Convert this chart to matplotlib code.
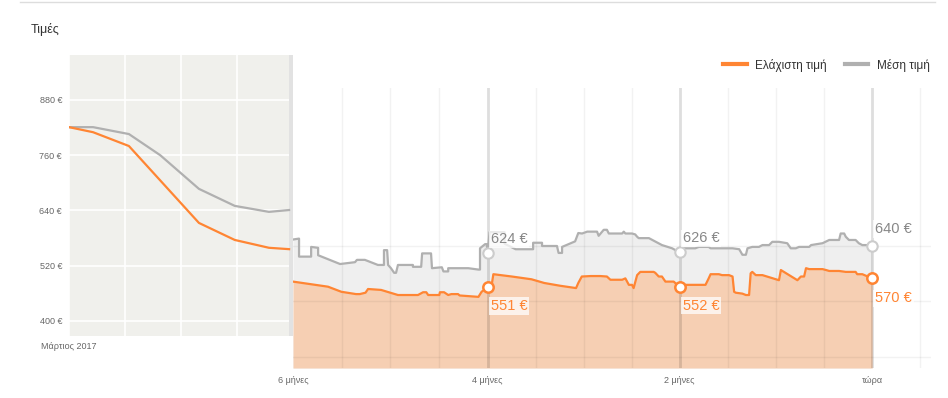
import matplotlib
matplotlib.use('Agg')
import matplotlib.pyplot as plt
from matplotlib.lines import Line2D
import numpy as np

plt.rcParams['font.family'] = ['Liberation Sans', 'DejaVu Sans']

ORANGE = '#ff8533'
GRAY = '#b0b0b0'
ORANGE_FILL = '#f6cfb3'
GRAY_FILL = '#efefef'

# ---------------- history panel (monthly index from March 2017) ----------------
hist_min_x = [0, 0.43, 1.07, 2.32, 2.96, 3.57, 3.93]
hist_min = [821, 810, 780, 613, 576, 559, 556]
hist_avg_x = [0, 0.43, 1.07, 1.63, 2.32, 2.96, 3.57, 3.93]
hist_avg = [821, 821, 806, 760, 687, 650, 637, 641]
price_ticks = [400, 520, 640, 760, 880]
price_labels = ['400 €', '520 €', '640 €', '760 €', '880 €']
hist_label = 'Μάρτιος 2017'

# ---------------- last six months (days since start) ----------------
avg_days = [0, 1.9, 1.9, 5.7, 5.7, 7.9, 7.9, 14.8, 19.5, 20.1, 22.6, 26.7, 28.6, 28.6,
            29.6, 29.9, 30.8, 31.8, 32.4, 33, 37.7, 37.7, 40.3, 40.6, 43.4, 43.7, 46.8,
            47.3, 48.8, 48.8, 55.1, 58.3, 58.8, 58.8, 60.4, 60.9, 61.2, 61.8, 66.5, 66.5,
            70, 75.5, 75.5, 78.3, 78.3, 83, 83.5, 84.6, 84.6, 87, 88.7, 89.7, 90.9, 92.5,
            95.6, 96.1, 97.7, 98.7, 99.3, 103.5, 104, 104.5, 106.6, 107.6, 108.2, 108.7,
            111.9, 116, 119.2, 121.6, 122.3, 126.5, 127.6, 130.7, 131.3, 138.2, 140.3,
            141.3, 142.4, 142.9, 144.4, 146.5, 147.6, 149.7, 150.7, 152.8, 155.4, 156.5,
            158.1, 159.1, 162.3, 162.9, 166.5, 168.6, 171.7, 172.2, 173.3, 173.8, 174.8,
            176.9, 177.9, 179, 181.1, 182.1]
avg_vals = [654, 656, 617, 617, 638, 636, 620, 601, 605, 610, 610, 599, 599, 631,
            631, 599, 592, 582, 582, 599, 599, 595, 595, 624, 624, 592, 594,
            585, 585, 592, 592, 589, 589, 635, 644, 644, 624, 670, 670, 645,
            633, 633, 647, 647, 640, 640, 625, 625, 638, 645, 650, 668, 667, 671,
            671, 662, 675, 675, 667, 667, 671, 667, 667, 665, 660, 657,
            657, 642, 635, 626, 635, 635, 638, 638, 635, 635, 633,
            621, 621, 635, 638, 638, 642, 642, 649, 649, 646, 635,
            635, 638, 638, 642, 646, 653, 653, 667, 667, 660, 653,
            653, 646, 642, 642, 640]

min_days = [0, 11, 15.2, 19.8, 21, 22.8, 23.6, 27.7, 33, 39.3, 40.9, 41.9, 42.5, 46,
            46.2, 47.5, 48.8, 49.8, 51.9, 52.4, 58.3, 59.3, 61.2, 62.5, 63, 68.8, 75,
            79, 84, 89, 89.7, 90.8, 93.6, 96.6, 98.7, 99.8, 103.5, 104.5, 105.6, 106.6,
            107.1, 108.2, 109.2, 113.4, 113.9, 115, 116, 117.1, 119.7, 120.8, 121.6,
            122.3, 123.4, 129.7, 130.7, 131.3, 133.9, 134.9, 137.1, 138.2, 138.7, 139.2,
            141.3, 142.4, 143.4, 143.9, 144.4, 145.5, 147.6, 152.8, 153.4, 158.6, 159.7,
            160.7, 161.3, 162.3, 166.5, 167.6, 168.6, 171.7, 173.8, 176.9, 177.4, 179,
            182.1]
min_vals = [563, 552, 541, 536, 536, 539, 547, 545, 534, 534, 540, 540, 534, 534,
            540, 540, 534, 536, 536, 533, 530, 541, 551, 557, 579, 574, 568,
            560, 554, 549, 560, 574, 575, 575, 574, 567, 567, 570, 556, 556,
            549, 577, 584, 584, 582, 574, 574, 563, 563, 556, 552,
            552, 556, 556, 570, 579, 579, 577, 577, 574, 541, 539,
            537, 534, 534, 581, 584, 577, 577, 566, 588, 566, 574,
            574, 592, 590, 590, 588, 586, 586, 584, 584, 579, 579,
            570]

mark_days = [61.2, 121.6, 182.1]
mark_avg = [624, 626, 640]
mark_min = [551, 552, 570]
month_tick_days = [0, 61.2, 121.6, 182.1]
month_tick_labels = ['6 μήνες', '4 μήνες', '2 μήνες', 'τώρα']
minor_grid_days = [15.3, 30.6, 45.9, 76.3, 91.4, 106.5, 136.7, 151.8, 167.0, 197.2]

W, H = 948, 398
fig = plt.figure(figsize=(W / 100, H / 100), dpi=100)

def fx(px):
    return px / W

def fy(py):
    return 1 - py / H

# ---------- left (history) axes ----------
axl = fig.add_axes([fx(69), fy(336), fx(293) - fx(69), fy(55) - fy(336)])
axl.set_facecolor('#f0f0ec')
axl.set_xlim(0, 4.0)
axl.set_ylim(367.4, 977.7)
axl.axvspan(3.93, 4.0, color='#e2e2e2', lw=0, zorder=1)
axl.set_yticks(price_ticks)
axl.set_yticklabels(price_labels)
axl.set_xticks([0, 1, 2, 3])
axl.set_xticklabels([hist_label, '', '', ''])
axl.grid(True, color='white', lw=1.2)
axl.set_axisbelow(True)
axl.tick_params(length=0, labelsize=6.5, labelcolor='#666666')
axl.tick_params(axis='y', pad=5)
axl.tick_params(axis='x', pad=4)
for s in axl.spines.values():
    s.set_visible(False)
axl.plot(hist_avg_x, hist_avg, color=GRAY, lw=1.6, zorder=3, solid_joinstyle='round')
axl.plot(hist_min_x, hist_min, color=ORANGE, lw=1.6, zorder=3, solid_joinstyle='round')

# ---------- right (recent) axes ----------
axr = fig.add_axes([fx(293), fy(368), fx(931) - fx(293), fy(88) - fy(368)])
axr.set_xlim(0, 200.6)
axr.set_ylim(376.2, 981.6)
axr.fill_between(avg_days, avg_vals, 376.2, color=GRAY_FILL, lw=0, zorder=1)
axr.fill_between(min_days, min_vals, 376.2, color=ORANGE_FILL, lw=0, zorder=1.1)
for d in minor_grid_days:
    axr.axvline(d, color=(0, 0, 0, 0.05), lw=1, zorder=2)
for d in mark_days:
    axr.axvline(d, color=(0, 0, 0, 0.13), lw=2, zorder=2)
for v in [400, 520, 640]:
    axr.axhline(v, color=(0, 0, 0, 0.05), lw=1, zorder=2)
axr.plot(avg_days, avg_vals, color=GRAY, lw=1.6, zorder=3)
axr.plot(min_days, min_vals, color=ORANGE, lw=1.6, zorder=3)
axr.plot(mark_days, mark_avg, 'o', ms=7.5, mfc='white', mec='#cccccc', mew=1.5, zorder=4)
axr.plot(mark_days, mark_min, 'o', ms=7.5, mfc='white', mec=ORANGE, mew=1.8, zorder=4)
for d, v in zip(mark_days, mark_avg):
    dy = 17 if d == mark_days[-1] else 14
    axr.annotate(f'{v} €', (d, v), xytext=(2.2, dy * 0.72), textcoords='offset points',
                 ha='left', va='center', fontsize=10.5, color='#888888', zorder=5,
                 bbox=dict(boxstyle='square,pad=0.12', fc='white', ec='none', alpha=0.75))
for d, v in zip(mark_days, mark_min):
    dy = -20 if d == mark_days[-1] else -19
    axr.annotate(f'{v} €', (d, v), xytext=(2.2, dy * 0.72), textcoords='offset points',
                 ha='left', va='center', fontsize=10.5, color=ORANGE, zorder=5,
                 bbox=dict(boxstyle='square,pad=0.12', fc='white', ec='none', alpha=0.75))
axr.set_xticks(month_tick_days)
axr.set_xticklabels(month_tick_labels)
axr.set_yticks([])
axr.tick_params(length=0, labelsize=6.5, labelcolor='#666666', pad=6)
for s in axr.spines.values():
    s.set_visible(False)
axr.patch.set_alpha(0)

# ---------- title, top rule, legend ----------
fig.text(fx(31), fy(30), 'Τιμές', fontsize=9, color='#333333', va='center', ha='left')
fig.add_artist(Line2D([fx(20), fx(935)], [fy(2), fy(2)], color='#dddddd', lw=1))
handles = [Line2D([], [], color=ORANGE, lw=3), Line2D([], [], color=GRAY, lw=3)]
fig.legend(handles, ['Ελάχιστη τιμή', 'Μέση τιμή'], loc='center right',
           bbox_to_anchor=(fx(936), fy(65)), ncol=2, frameon=False, fontsize=8.5,
           handlelength=2.0, handletextpad=0.75, columnspacing=1.5, borderpad=0,
           labelcolor='#333333')

fig.savefig('out.png', dpi=100)
